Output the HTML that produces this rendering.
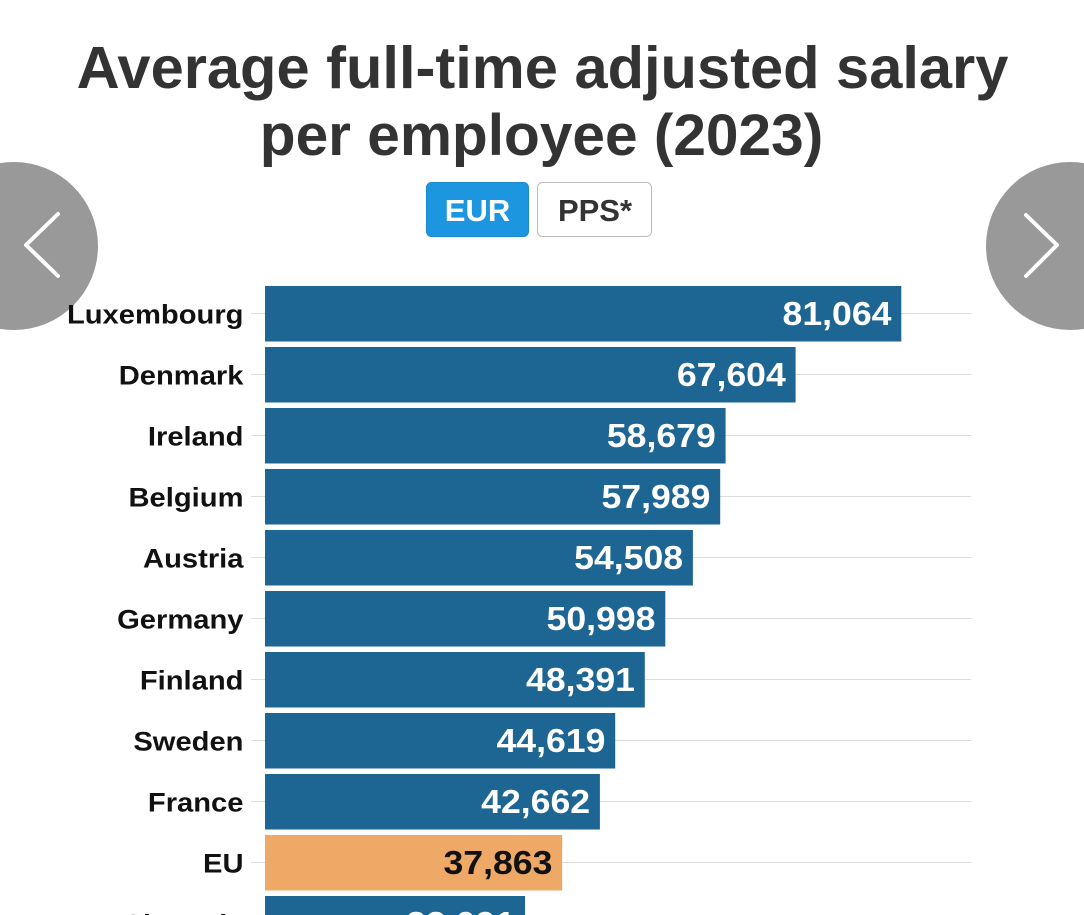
<!DOCTYPE html>
<html>
<head>
<meta charset="utf-8">
<style>
  html, body { margin: 0; padding: 0; background: #ffffff; }
  body { width: 1084px; height: 915px; overflow: hidden; }
  svg { display: block; }
  .t { font-family: "Liberation Sans", Arial, sans-serif; font-weight: bold; }
</style>
</head>
<body>
<svg width="1084" height="915" viewBox="0 0 1084 915" xmlns="http://www.w3.org/2000/svg">
  <rect x="0" y="0" width="1084" height="915" fill="#ffffff"/>

  <!-- Title -->
  <text class="t" x="542.5" y="88" font-size="59.6" fill="#333333" text-anchor="middle">Average full-time adjusted salary</text>
  <text class="t" x="541.5" y="155" font-size="58.6" fill="#333333" text-anchor="middle">per employee (2023)</text>

  <!-- Buttons -->
  <rect x="426.5" y="182.5" width="102" height="54" rx="5" ry="5" fill="#1b96df" stroke="#1a8ad0" stroke-width="1"/>
  <text class="t" x="477.5" y="221" font-size="31" fill="#ffffff" text-anchor="middle">EUR</text>
  <rect x="537.5" y="182.5" width="114" height="54" rx="5" ry="5" fill="#ffffff" stroke="#bdbdbd" stroke-width="1"/>
  <text class="t" x="595" y="221" font-size="31" fill="#333333" text-anchor="middle">PPS*</text>

  <!-- Grid lines -->
  <g stroke="#dcdcdc" stroke-width="1">
    <line x1="251" x2="971" y1="313.5" y2="313.5"/>
    <line x1="251" x2="971" y1="374.5" y2="374.5"/>
    <line x1="251" x2="971" y1="435.5" y2="435.5"/>
    <line x1="251" x2="971" y1="496.5" y2="496.5"/>
    <line x1="251" x2="971" y1="557.5" y2="557.5"/>
    <line x1="251" x2="971" y1="618.5" y2="618.5"/>
    <line x1="251" x2="971" y1="679.5" y2="679.5"/>
    <line x1="251" x2="971" y1="740.5" y2="740.5"/>
    <line x1="251" x2="971" y1="801.5" y2="801.5"/>
    <line x1="251" x2="971" y1="862.5" y2="862.5"/>
  </g>

  <!-- Bars -->
  <g fill="#1d6592">
    <rect x="265" y="286" width="636.3" height="55.5"/>
    <rect x="265" y="347" width="530.6" height="55.5"/>
    <rect x="265" y="408" width="460.6" height="55.5"/>
    <rect x="265" y="469" width="455.2" height="55.5"/>
    <rect x="265" y="530" width="427.9" height="55.5"/>
    <rect x="265" y="591" width="400.3" height="55.5"/>
    <rect x="265" y="652" width="379.8" height="55.5"/>
    <rect x="265" y="713" width="350.2" height="55.5"/>
    <rect x="265" y="774" width="334.9" height="55.5"/>
    <rect x="265" y="896" width="260" height="55.5"/>
  </g>
  <rect x="265" y="835" width="297.2" height="55.5" fill="#efa966"/>

  <!-- Nav circles -->
  <circle cx="14" cy="246" r="84" fill="#999999"/>
  <polyline points="58,214 26,245 58,276" fill="none" stroke="#ffffff" stroke-width="4" stroke-linecap="round" stroke-linejoin="round"/>
  <circle cx="1070" cy="246" r="84" fill="#999999"/>
  <polyline points="1026,215 1057,245 1026,276" fill="none" stroke="#ffffff" stroke-width="4" stroke-linecap="round" stroke-linejoin="round"/>

  <!-- Labels -->
  <g class="t" font-size="27" fill="#111111" text-anchor="end">
    <text transform="translate(243.5,323.5) scale(1.08,1)">Luxembourg</text>
    <text transform="translate(243.5,384.5) scale(1.08,1)">Denmark</text>
    <text transform="translate(243.5,445.5) scale(1.08,1)">Ireland</text>
    <text transform="translate(243.5,506.5) scale(1.08,1)">Belgium</text>
    <text transform="translate(243.5,567.5) scale(1.08,1)">Austria</text>
    <text transform="translate(243.5,628.5) scale(1.08,1)">Germany</text>
    <text transform="translate(243.5,689.5) scale(1.08,1)">Finland</text>
    <text transform="translate(243.5,750.5) scale(1.08,1)">Sweden</text>
    <text transform="translate(243.5,811.5) scale(1.08,1)">France</text>
    <text transform="translate(243.5,872.5) scale(1.08,1)">EU</text>
    <text transform="translate(243.5,933.5) scale(1.08,1)">Slovenia</text>
  </g>

  <!-- Values -->
  <g class="t" font-size="33" fill="#ffffff" text-anchor="end">
    <text transform="translate(891.5,325) scale(1.08,1)">81,064</text>
    <text transform="translate(785.8,386) scale(1.08,1)">67,604</text>
    <text transform="translate(715.8,447) scale(1.08,1)">58,679</text>
    <text transform="translate(710.4,508) scale(1.08,1)">57,989</text>
    <text transform="translate(683.1,569) scale(1.08,1)">54,508</text>
    <text transform="translate(655.5,630) scale(1.08,1)">50,998</text>
    <text transform="translate(635,691) scale(1.08,1)">48,391</text>
    <text transform="translate(605.4,752) scale(1.08,1)">44,619</text>
    <text transform="translate(590.1,813) scale(1.08,1)">42,662</text>
    <text transform="translate(552.4,874) scale(1.08,1)" fill="#111111">37,863</text>
    <text transform="translate(515.2,935) scale(1.08,1)">33,091</text>
  </g>
</svg>
</body>
</html>
